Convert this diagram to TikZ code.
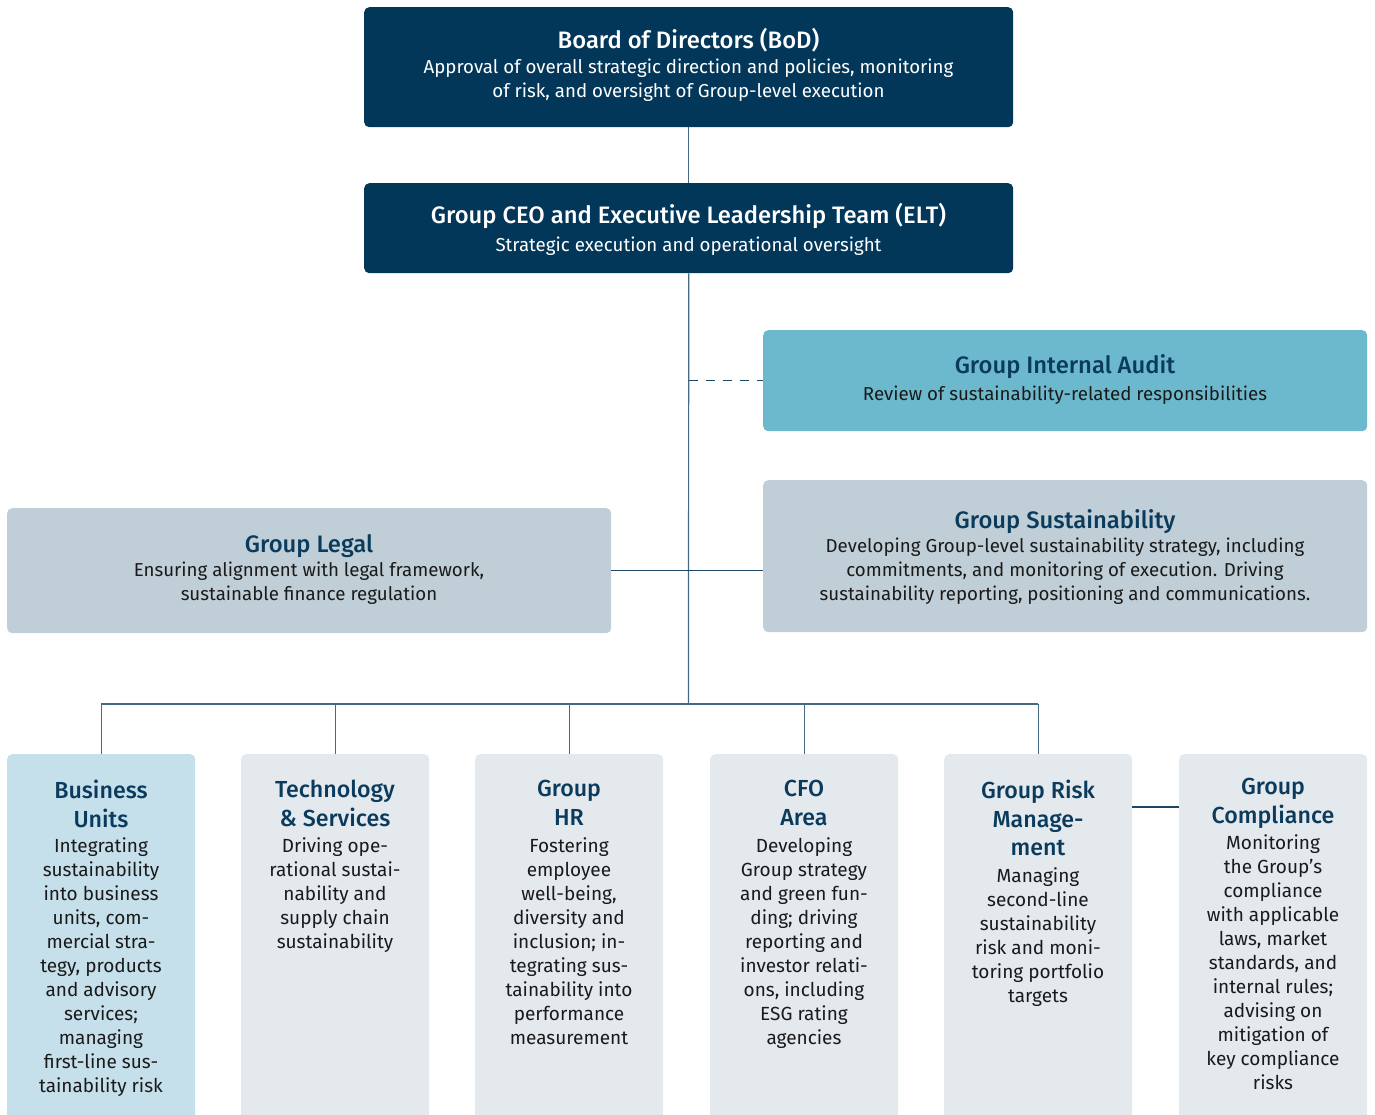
\documentclass[tikz,border=0pt]{standalone}
\usepackage{fontspec}
\setmainfont{Fira Sans}
\newfontfamily\ttlfont{Fira Sans Medium}
\definecolor{navy}{HTML}{02375A}
\definecolor{ttlblue}{HTML}{0B3B5C}
\definecolor{bodyblk}{HTML}{1A1A1A}
\definecolor{audit}{HTML}{6CB9CD}
\definecolor{greyblue}{HTML}{C0CFD7}
\definecolor{lightblue}{HTML}{C5E0EA}
\definecolor{lightgrey}{HTML}{E4E9ED}
\definecolor{linec}{HTML}{456A82}
\definecolor{darkline}{HTML}{1C4866}
\begin{document}
\begin{tikzpicture}[x=1pt,y=-1pt,
  boxshape/.style={rectangle,rounded corners=5pt,draw=none,anchor=north west,inner sep=0pt},
  ttl/.style={font=\ttlfont\fontsize{23.8}{28.5}\selectfont,text=ttlblue,align=center,inner sep=0pt,anchor=north,execute at begin node=\strut},
  colttl/.style={ttl,font=\ttlfont\fontsize{23.2}{28.5}\selectfont},
  bodytxt/.style={font=\fontsize{18.7}{24}\selectfont,text=bodyblk,align=center,inner sep=0pt,anchor=north,execute at begin node=\strut},
  colbody/.style={bodytxt,font=\fontsize{19}{24}\selectfont},
  conn/.style={draw=linec,line width=1.2pt},
  darkconn/.style={draw=darkline,line width=1.2pt},
]
\useasboundingbox (0,0) rectangle (1375,1115);
\fill[white] (0,0) rectangle (1375,1115);

% top boxes
\node[boxshape,fill=navy,minimum width=649,minimum height=120] (bod) at (364,7) {};
\node[ttl,text=white] (bodT) at (688.5,48-19.95) {Board of Directors (BoD)};
\node[bodytxt,text=white] (bodB) at (688.5,76-16.8) {Approval of overall strategic direction and policies, monitoring\\of risk, and oversight of Group-level execution};

\node[boxshape,fill=navy,minimum width=649,minimum height=90] (ceo) at (364,183) {};
\node[ttl,text=white] (ceoT) at (688.5,223-19.95) {Group CEO and Executive Leadership Team (ELT)};
\node[bodytxt,text=white] (ceoB) at (688.5,251-16.8) {Strategic execution and operational oversight};

\node[boxshape,fill=audit,minimum width=604,minimum height=101] (audit) at (763,330) {};
\node[ttl] (auditT) at (1065,373-19.95) {Group Internal Audit};
\node[bodytxt] (auditB) at (1065,400-16.8) {Review of sustainability-related responsibilities};

\node[boxshape,fill=greyblue,minimum width=604,minimum height=152] (sust) at (763,480) {};
\node[ttl] (sustT) at (1065,528-19.95) {Group Sustainability};
\node[bodytxt] (sustB) at (1065,555-16.8) {Developing Group-level sustainability strategy, including\\commitments, and monitoring of execution. Driving\\sustainability reporting, positioning and communications.};

\node[boxshape,fill=greyblue,minimum width=604,minimum height=125] (legal) at (7,508) {};
\node[ttl] (legalT) at (309,552-19.95) {Group Legal};
\node[bodytxt] (legalB) at (309,579-16.8) {Ensuring alignment with legal framework,\\sustainable finance regulation};

% bottom boxes
\node[boxshape,fill=lightblue,minimum width=188,minimum height=376] (bu) at (7,754) {};
\node[boxshape,fill=lightgrey,minimum width=188,minimum height=376] (tech) at (241,754) {};
\node[boxshape,fill=lightgrey,minimum width=188,minimum height=376] (hr) at (475,754) {};
\node[boxshape,fill=lightgrey,minimum width=188,minimum height=376] (cfo) at (710,754) {};
\node[boxshape,fill=lightgrey,minimum width=188,minimum height=376] (risk) at (944,754) {};
\node[boxshape,fill=lightgrey,minimum width=188,minimum height=376] (comp) at (1179,754) {};

\node[colttl] (buT) at (101,800-19.95) {Business\\Units};
\node[colbody] (buB) at (101,854-16.8) {Integrating\\sustainability\\into business\\units, com-\\mercial stra-\\tegy, products\\and advisory\\services;\\managing\\first-line sus-\\tainability risk};

\node[colttl] (techT) at (335,800-19.95) {Technology\\\& Services};
\node[colbody] (techB) at (335,854-16.8) {Driving ope-\\rational sustai-\\nability and\\supply chain\\sustainability};

\node[colttl] (hrT) at (569,800-19.95) {Group\\HR};
\node[colbody] (hrB) at (569,854-16.8) {Fostering\\employee\\well-being,\\diversity and\\inclusion; in-\\tegrating sus-\\tainability into\\performance\\measurement};

\node[colttl] (cfoT) at (804,800-19.95) {CFO\\Area};
\node[colbody] (cfoB) at (804,854-16.8) {Developing\\Group strategy\\and green fun-\\ding; driving\\reporting and\\investor relati-\\ons, including\\ESG rating\\agencies};

\node[colttl] (riskT) at (1038,800-19.95) {Group Risk\\Manage-\\ment};
\node[colbody] (riskB) at (1038,884-16.8) {Managing\\second-line\\sustainability\\risk and moni-\\toring portfolio\\targets};

\node[colttl] (compT) at (1273,798-19.95) {Group\\Compliance};
\node[colbody] (compB) at (1273,851-16.8) {Monitoring\\the Group’s\\compliance\\with applicable\\laws, market\\standards, and\\internal rules;\\advising on\\mitigation of\\key compliance\\risks};

% connectors
\coordinate (bus) at (688.5,704);
\draw[conn] (bod.south) -- (ceo.north);
\draw[conn] (ceo.south) -- (bus);
\draw[darkconn,dash pattern=on 9pt off 8pt] (ceo.south |- audit.west) -- (audit.west);
\draw[darkconn] (legal.east) -- (legal.east -| sust.west);
\draw[conn] (bu.north |- bus) -- (risk.north |- bus);
\draw[conn] (bu.north |- bus) -- (bu.north);
\draw[conn] (tech.north |- bus) -- (tech.north);
\draw[conn] (hr.north |- bus) -- (hr.north);
\draw[conn] (cfo.north |- bus) -- (cfo.north);
\draw[conn] (risk.north |- bus) -- (risk.north);
\coordinate (rc) at (1156,807);
\draw[darkconn] (risk.east |- rc) -- (comp.west |- rc);
\end{tikzpicture}
\end{document}
